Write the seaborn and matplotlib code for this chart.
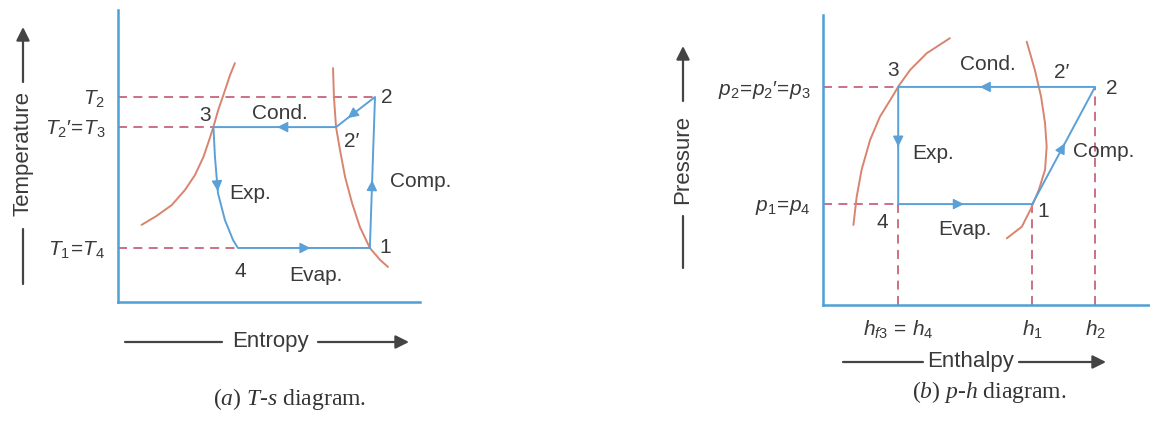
import numpy as np
import seaborn as sns
import matplotlib.pyplot as plt

# ---- T-s diagram (diagram units, both axes 0..10) ----
ts_liquid_s = [0.78, 1.28, 1.78, 2.22, 2.55, 2.83, 3.02, 3.16, 3.32, 3.51, 3.71, 3.87]
ts_liquid_T = [2.64, 2.95, 3.32, 3.84, 4.35, 4.97, 5.55, 6.00, 6.58, 7.15, 7.77, 8.18]
ts_vapour_s = [7.12, 7.15, 7.22, 7.35, 7.52, 7.75, 8.01, 8.34, 8.68, 8.94]
ts_vapour_T = [8.01, 7.02, 5.99, 5.21, 4.28, 3.39, 2.57, 1.85, 1.44, 1.20]
# cycle: 1 -> 2 -> 2' -> 3 -> expansion curve -> 4 -> 1
ts_cycle_s = [8.34, 8.51, 7.22, 3.16, 3.21, 3.31, 3.54, 3.81, 3.97, 8.34]
ts_cycle_T = [1.85, 7.02, 5.99, 5.99, 4.97, 3.73, 2.81, 2.12, 1.85, 1.85]
ts_levels_T = [7.02, 5.99, 1.85]
ts_levels_s = [8.51, 3.16, 3.97]
ts_level_labels = [r'$T_2$', r"$T_2$′$\!=\!T_3$", r'$T_1\!=\!T_4$']

# ---- p-h diagram ----
ph_liquid_h = [0.93, 1.03, 1.18, 1.44, 1.74, 2.15, 2.30, 2.66, 3.17, 3.88]
ph_liquid_p = [2.76, 3.73, 4.66, 5.69, 6.49, 7.24, 7.53, 8.10, 8.68, 9.20]
ph_vapour_h = [6.23, 6.48, 6.67, 6.79, 6.84, 6.79, 6.60, 6.35, 6.08, 5.62]
ph_vapour_p = [9.08, 8.10, 7.18, 6.27, 5.46, 4.66, 3.97, 3.30, 2.70, 2.30]
# cycle: 1 -> 2 -> 3 -> 4 -> 1
ph_cycle_h = [6.40, 8.32, 2.30, 2.30, 6.40]
ph_cycle_p = [3.48, 7.52, 7.52, 3.48, 3.48]
ph_levels_p = [7.52, 3.48]
ph_levels_h = [2.30, 2.30]
ph_level_labels = [r"$p_2\!=\!p_2$′$\!=\!p_3$", r'$p_1\!=\!p_4$']
ph_drops_h = [2.30, 6.40, 8.32]
ph_drops_p = [3.48, 3.48, 7.52]
ph_drop_labels = [r'$h_{f3}\,=\,h_4$', r'$h_1$', r'$h_2$']

sns.set_theme(style='white')
plt.rcParams['font.family'] = ['Liberation Sans', 'DejaVu Sans']
plt.rcParams['mathtext.fontset'] = 'custom'
plt.rcParams['mathtext.rm'] = 'Liberation Sans'
plt.rcParams['mathtext.it'] = 'Liberation Sans:italic'
plt.rcParams['mathtext.bf'] = 'Liberation Serif:italic'  # used for caption italics

axis_blue = '#4d9fd6'
cycle_blue = '#5ba0d6'
curve_red = '#d8846f'
dash_red = '#c8657b'
text_col = '#3a3a3a'
dash = (0, (5, 3.5))

W, H = 1150, 424
fig = plt.figure(figsize=(11.5, 4.24), dpi=100)


def box(x0, y0, x1, y1):
    return [x0 / W, 1 - y1 / H, (x1 - x0) / W, (y1 - y0) / H]


def line(ax, xs, ys, color, ls='-'):
    sns.lineplot(x=xs, y=ys, sort=False, estimator=None, ax=ax, color=color,
                 lw=1.4 if ls == '-' else 1.3, linestyle=ls)


def mid_arrow(ax, a, b, frac):
    tip = (a[0] + frac * (b[0] - a[0]), a[1] + frac * (b[1] - a[1]))
    tail = (a[0] + (frac - 0.03) * (b[0] - a[0]), a[1] + (frac - 0.03) * (b[1] - a[1]))
    ax.annotate('', xy=tip, xytext=tail,
                arrowprops=dict(arrowstyle='-|>', color=cycle_blue, lw=1.0, mutation_scale=16))


def fig_arrow(x0, y0, x1, y1, head=True):
    fig.axes[0].annotate('', xy=(x1, H - y1), xycoords='figure pixels',
                         xytext=(x0, H - y0), textcoords='figure pixels',
                         annotation_clip=False,
                         arrowprops=dict(arrowstyle='-|>' if head else '-', color='#444444',
                                         lw=1.6, mutation_scale=20, shrinkA=0, shrinkB=0))


def style_axes(ax):
    ax.set_xlim(0, 10)
    ax.set_ylim(0, 10)
    for side in ['top', 'right']:
        ax.spines[side].set_visible(False)
    for side in ['left', 'bottom']:
        ax.spines[side].set_color(axis_blue)
        ax.spines[side].set_linewidth(1.8)
    ax.set_facecolor('none')
    ax.set_xlabel('')
    ax.set_ylabel('')


# ================= left: T-s =================
ax1 = fig.add_axes(box(118, 10, 420, 302))
for T, s in zip(ts_levels_T, ts_levels_s):
    line(ax1, [0, s], [T, T], dash_red, dash)
line(ax1, ts_liquid_s, ts_liquid_T, curve_red)
line(ax1, ts_vapour_s, ts_vapour_T, curve_red)
line(ax1, ts_cycle_s, ts_cycle_T, cycle_blue)
pts = list(zip(ts_cycle_s, ts_cycle_T))
mid_arrow(ax1, pts[0], pts[1], 0.45)
mid_arrow(ax1, pts[1], pts[2], 0.70)
mid_arrow(ax1, pts[2], pts[3], 0.48)
mid_arrow(ax1, pts[4], pts[5], 0.95)
mid_arrow(ax1, pts[8], pts[9], 0.55)
style_axes(ax1)
ax1.set_xticks([])
ax1.set_yticks(ts_levels_T, labels=ts_level_labels)
ax1.tick_params(axis='y', length=0, pad=9, labelsize=15, labelcolor=text_col)

lab = dict(fontsize=15, color=text_col, ha='center', va='center')
ax1.text(8.91, 7.02, '2', **lab)
ax1.text(7.75, 5.50, '2′', **lab)
ax1.text(2.88, 6.40, '3', **lab)
ax1.text(4.04, 1.03, '4', **lab)
ax1.text(8.84, 1.85, '1', **lab)
ax1.text(5.36, 6.47, 'Cond.', **lab)
ax1.text(3.70, 3.73, 'Exp.', fontsize=15, color=text_col, ha='left', va='center')
ax1.text(9.00, 4.11, 'Comp.', fontsize=15, color=text_col, ha='left', va='center', clip_on=False)
ax1.text(6.56, 0.92, 'Evap.', **lab)

# ================= right: p-h =================
ax2 = fig.add_axes(box(823, 15, 1150, 305))
for p, h in zip(ph_levels_p, ph_levels_h):
    line(ax2, [0, h], [p, p], dash_red, dash)
for h, p in zip(ph_drops_h, ph_drops_p):
    line(ax2, [h, h], [0, p], dash_red, dash)
line(ax2, ph_liquid_h, ph_liquid_p, curve_red)
line(ax2, ph_vapour_h, ph_vapour_p, curve_red)
line(ax2, ph_cycle_h, ph_cycle_p, cycle_blue)
pts = list(zip(ph_cycle_h, ph_cycle_p))
mid_arrow(ax2, pts[0], pts[1], 0.52)
mid_arrow(ax2, pts[1], pts[2], 0.60)
mid_arrow(ax2, pts[2], pts[3], 0.51)
mid_arrow(ax2, pts[3], pts[4], 0.49)
style_axes(ax2)
ax2.set_yticks(ph_levels_p, labels=ph_level_labels)
ax2.set_xticks(ph_drops_h, labels=ph_drop_labels)
ax2.tick_params(axis='both', length=0, labelsize=15, labelcolor=text_col)
ax2.tick_params(axis='y', pad=9)
ax2.tick_params(axis='x', pad=10)

ax2.text(2.14, 8.10, '3', **lab)
ax2.text(5.05, 8.28, 'Cond.', **lab)
ax2.text(7.31, 8.03, '2′', **lab)
ax2.text(8.84, 7.48, '2', **lab)
ax2.text(2.72, 5.24, 'Exp.', fontsize=15, color=text_col, ha='left', va='center')
ax2.text(7.65, 5.28, 'Comp.', fontsize=15, color=text_col, ha='left', va='center')
ax2.text(1.80, 2.86, '4', **lab)
ax2.text(4.34, 2.59, 'Evap.', **lab)
ax2.text(6.73, 3.21, '1', **lab)

# ---- axis titles with arrows (figure pixels) ----
fig.text(23 / W, 1 - 154 / H, 'Temperature', rotation=90, fontsize=16, color=text_col,
         ha='center', va='center')
fig_arrow(23, 284, 23, 229, head=False)
fig_arrow(23, 82, 23, 27)

fig.text(683 / W, 1 - 160 / H, 'Pressure', rotation=90, fontsize=16, color=text_col,
         ha='center', va='center')
fig_arrow(683, 268, 683, 216, head=False)
fig_arrow(683, 101, 683, 46)

fig.text(270 / W, 1 - 342 / H, 'Entropy', fontsize=16, color=text_col, ha='center', va='center')
fig_arrow(125, 342, 222, 342, head=False)
fig_arrow(318, 342, 409, 342)

fig.text(971 / W, 1 - 362 / H, 'Enthalpy', fontsize=16, color=text_col, ha='center', va='center')
fig_arrow(843, 362, 923, 362, head=False)
fig_arrow(1019, 362, 1106, 362)

# ---- captions ----
fig.text(290 / W, 1 - 399 / H, r'($\mathbf{a}$) $\mathbf{T}$-$\mathbf{s}$ diagram.',
         fontsize=17, family='Liberation Serif', color='#333333', ha='center', va='center')
fig.text(989 / W, 1 - 392 / H, r'($\mathbf{b}$) $\mathbf{p}$-$\mathbf{h}$ diagram.',
         fontsize=17, family='Liberation Serif', color='#333333', ha='center', va='center')

fig.savefig('out.png', dpi=100, facecolor='white')
